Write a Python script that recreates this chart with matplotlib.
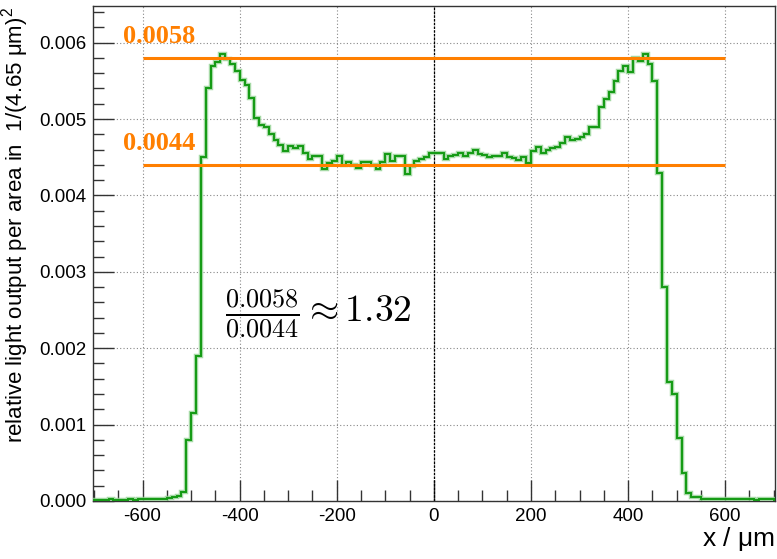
import numpy as np
import matplotlib
matplotlib.use("Agg")
import matplotlib.pyplot as plt
from matplotlib.ticker import MultipleLocator

# ---- data (10 um bins from -700 to 700) ----
bin_start = -700
bin_width = 10
light = [
    # -700 .. -520
    0.00001, 0.00001, 0.00001, 0.00002, 0.00001, 0.00001, 0.00001, 0.00002, 0.00001,
    0.00002, 0.00002, 0.00002, 0.00002, 0.00003, 0.00003, 0.00004, 0.00005, 0.00007,
    # -520 .. -400
    0.00012, 0.00080, 0.00115, 0.00190, 0.00450, 0.00540, 0.00570, 0.00575, 0.00585,
    0.00578, 0.00572, 0.00563,
    # -400 .. -200
    0.00551, 0.00544, 0.00528, 0.00501, 0.00492, 0.00489, 0.00481, 0.00473, 0.00466,
    0.00458, 0.00465, 0.00462, 0.00465, 0.00455, 0.00448, 0.00451, 0.00451, 0.00435,
    0.00442, 0.00445,
    # -200 .. 0
    0.00451, 0.00440, 0.00444, 0.00440, 0.00436, 0.00444, 0.00444, 0.00440, 0.00434,
    0.00444, 0.00454, 0.00445, 0.00452, 0.00452, 0.00428, 0.00438, 0.00445, 0.00448,
    0.00450, 0.00456,
    # 0 .. 200
    0.00455, 0.00455, 0.00448, 0.00452, 0.00453, 0.00455, 0.00452, 0.00455, 0.00460,
    0.00454, 0.00453, 0.00450, 0.00452, 0.00451, 0.00456, 0.00450, 0.00449, 0.00446,
    0.00450, 0.00443,
    # 200 .. 400
    0.00458, 0.00463, 0.00456, 0.00459, 0.00462, 0.00463, 0.00468, 0.00476, 0.00472,
    0.00474, 0.00477, 0.00481, 0.00489, 0.00490, 0.00516, 0.00526, 0.00535, 0.00550,
    0.00563, 0.00570,
    # 400 .. 550
    0.00562, 0.00580, 0.00576, 0.00585, 0.00572, 0.00550, 0.00430, 0.00280, 0.00156,
    0.00140, 0.00082, 0.00037, 0.00010, 0.00005, 0.00005,
    # 550 .. 700
    0.00003, 0.00003, 0.00003, 0.00002, 0.00003, 0.00002, 0.00002, 0.00002, 0.00002,
    0.00002, 0.00002, 0.00001, 0.00002, 0.00002, 0.00002,
]
level_high = 0.0058
level_low = 0.0044
level_span = (-600, 600)
xticks = [-600, -400, -200, 0, 200, 400, 600]
yticks = [0.000, 0.001, 0.002, 0.003, 0.004, 0.005, 0.006]

plt.rcParams['font.family'] = ['Liberation Sans', 'DejaVu Sans']
plt.rcParams['mathtext.fontset'] = 'cm'
plt.rcParams['axes.unicode_minus'] = False

fig = plt.figure(figsize=(7.77, 5.59), dpi=100)
ax = fig.add_axes([0.1197, 0.1038, 0.8777, 0.8855])

vals = np.array(light)
edges = bin_start + bin_width * np.arange(len(vals) + 1)

ax.stairs(vals, edges, color='#8fd08f', lw=3.2, alpha=0.8, zorder=3)
ax.stairs(vals, edges, color='#139a13', lw=1.4, zorder=4)

ax.hlines([level_high, level_low], level_span[0], level_span[1], color='#ff7f00', lw=2.2, zorder=5)
for lev in (level_high, level_low):
    ax.text(-640, lev + 0.00013, f"{lev:.4f}", color='#ff7f00', fontsize=19,
            fontweight='bold', family='Liberation Serif', ha='left', va='bottom')

ax.text(-430, 0.00245, r"$\frac{%.4f}{%.4f} \approx %.2f$" % (level_high, level_low, level_high / level_low),
        fontsize=27, ha='left', va='center', color='black')

ax.set_xlim(-702, 702.5)
ax.set_ylim(0, 0.00648)
ax.set_xticks(xticks)
ax.set_yticks(yticks)
ax.set_xticklabels([str(t) for t in xticks])
ax.set_yticklabels([f"{t:.3f}" for t in yticks])
ax.xaxis.set_minor_locator(MultipleLocator(50))
ax.yaxis.set_minor_locator(MultipleLocator(0.0002))
ax.tick_params(which='both', direction='in', top=False, right=False, labelsize=13.5, color='#333333')
ax.tick_params(which='major', length=15, width=1)
ax.tick_params(which='minor', length=8, width=1)
ax.tick_params(axis='x', pad=5)
ax.tick_params(axis='y', pad=5)

ax.grid(True, which='major', color='#888888', ls=(0, (1, 2)), lw=0.8)
ax.axvline(0, color='black', ls=(0, (2, 1)), lw=0.9, zorder=2)

for s in ax.spines.values():
    s.set_color('#333333')
    s.set_linewidth(1.0)

ax.set_xlabel(r"x / $\mathregular{\mu}$m", fontsize=19, loc='right', labelpad=0)
ax.set_ylabel("relative light output per area in  1/(4.65 μm)$^{\\mathregular{2}}$", fontsize=16, loc='top')
ax.yaxis.set_label_coords(-0.089, 1.0)

fig.savefig("out.png", dpi=100)
